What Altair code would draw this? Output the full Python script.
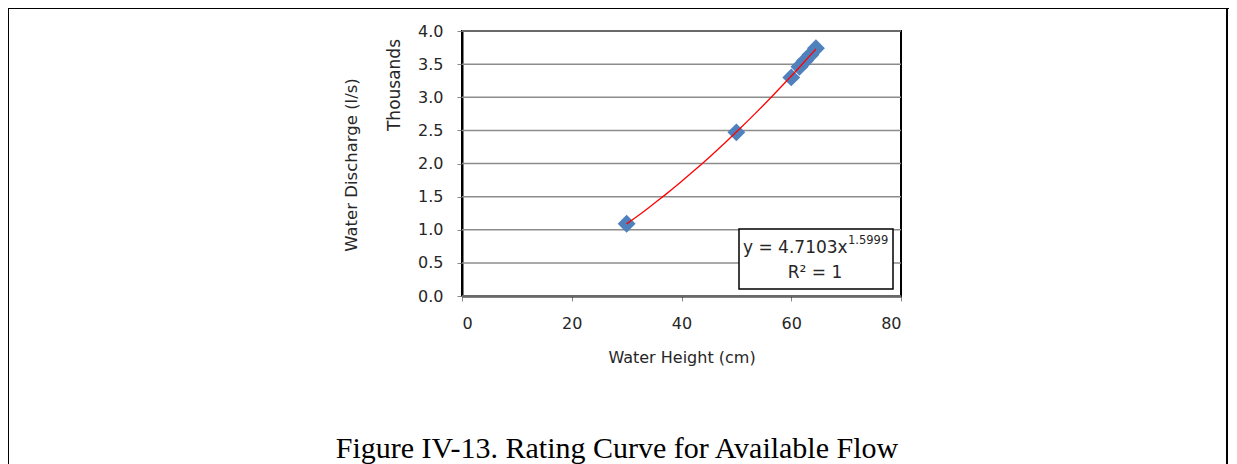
import altair as alt
import pandas as pd

# Data
height_cm = [30, 50, 60, 61.5, 62.5, 63.5, 64.5]
discharge_thousands = [1.09, 2.47, 3.30, 3.46, 3.55, 3.64, 3.74]

x_ticks = [0, 20, 40, 60, 80]
y_ticks = [0.0, 0.5, 1.0, 1.5, 2.0, 2.5, 3.0, 3.5, 4.0]

caption = "Figure IV-13. Rating Curve for Available Flow"
eq_main = "y = 4.7103x"
eq_sup = "1.5999"
r2_text = "R² = 1"

df = pd.DataFrame({"h": height_cm, "q": discharge_thousands})
grid_df = pd.DataFrame({"q": y_ticks})

FONT = "DejaVu Sans"
W, H = 439, 265
TXT = "#262626"

xscale = alt.Scale(domain=[0, 80], nice=False)
yscale = alt.Scale(domain=[0, 4], nice=False)
xaxis = alt.Axis(values=x_ticks, title="Water Height (cm)", grid=False,
                 labelFontSize=16, titleFontSize=16, labelFont=FONT, titleFont=FONT,
                 titleFontWeight="normal", labelColor=TXT, titleColor=TXT,
                 domainColor="black", domainWidth=2, tickColor="#888",
                 tickSize=5, labelPadding=14, titlePadding=18,
                 labelOverlap=False)
yaxis = alt.Axis(values=y_ticks, format=".1f", title=None, grid=False,
                 labelFontSize=16, labelFont=FONT, labelColor=TXT,
                 domainColor="black", domainWidth=2, tickColor="#888",
                 tickSize=5, labelPadding=14, labelOverlap=False)

xenc = alt.X("h:Q", scale=xscale, axis=xaxis)
yenc = alt.Y("q:Q", scale=yscale, axis=yaxis)

grid = alt.Chart(grid_df).mark_rule(color="#8c8c8c", strokeWidth=1.5).encode(y=yenc)

points = alt.Chart(df).mark_point(shape="diamond", filled=True, size=320,
                                  color="#4F81BD", opacity=1).encode(x=xenc, y=yenc)

trend = alt.Chart(df).transform_regression("h", "q", method="pow").mark_line(
    color="#FF0000", strokeWidth=1.3).encode(x=xenc, y=yenc)

anno = pd.DataFrame({"k": [0]})
base = alt.Chart(anno)

box = base.mark_rect(fill="white", stroke="black", strokeWidth=1.5).encode(
    x=alt.value(277), x2=alt.value(431), y=alt.value(198), y2=alt.value(258))

t_eq = base.mark_text(text=eq_main, font=FONT, fontSize=17, align="left",
                      baseline="alphabetic", color=TXT).encode(
    x=alt.value(281), y=alt.value(222))
t_sup = base.mark_text(text=eq_sup, font=FONT, fontSize=11.5, align="left",
                       baseline="alphabetic", color=TXT).encode(
    x=alt.value(386), y=alt.value(213))
t_r2 = base.mark_text(text=r2_text, font=FONT, fontSize=17, align="center",
                      baseline="alphabetic", color=TXT).encode(
    x=alt.value(353), y=alt.value(247))

t_ytitle = base.mark_text(text="Water Discharge (l/s)", font=FONT, fontSize=16.5, angle=270,
                          align="center", baseline="middle", color=TXT).encode(
    x=alt.value(-110), y=alt.value(134))
t_thou = base.mark_text(text="Thousands", font=FONT, fontSize=17, angle=270,
                        align="center", baseline="middle", color=TXT).encode(
    x=alt.value(-67), y=alt.value(54))

t_cap = base.mark_text(text=caption, font="Liberation Serif", fontSize=30, align="center",
                       baseline="alphabetic", color="black").encode(
    x=alt.value(155), y=alt.value(427))

frame_left = base.mark_rule(color="black", strokeWidth=2).encode(
    x=alt.value(-454), y=alt.value(-23), y2=alt.value(460))
frame_top = base.mark_rule(color="black", strokeWidth=2).encode(
    x=alt.value(-454), x2=alt.value(770), y=alt.value(-23))
frame_right = base.mark_rule(color="black", strokeWidth=2).encode(
    x=alt.value(765), y=alt.value(-23), y2=alt.value(460))

chart = alt.layer(
    grid, points, trend, box, t_eq, t_sup, t_r2, t_ytitle, t_thou, t_cap,
    frame_left, frame_top, frame_right
).properties(
    width=W, height=H,
    autosize=alt.AutoSizeParams(type="none"),
    padding={"left": 454, "top": 23, "right": 328, "bottom": 168},
    background="white",
).configure_view(stroke="black", strokeWidth=2)

chart.save("out.html", embed_options={"renderer": "svg", "actions": False})
